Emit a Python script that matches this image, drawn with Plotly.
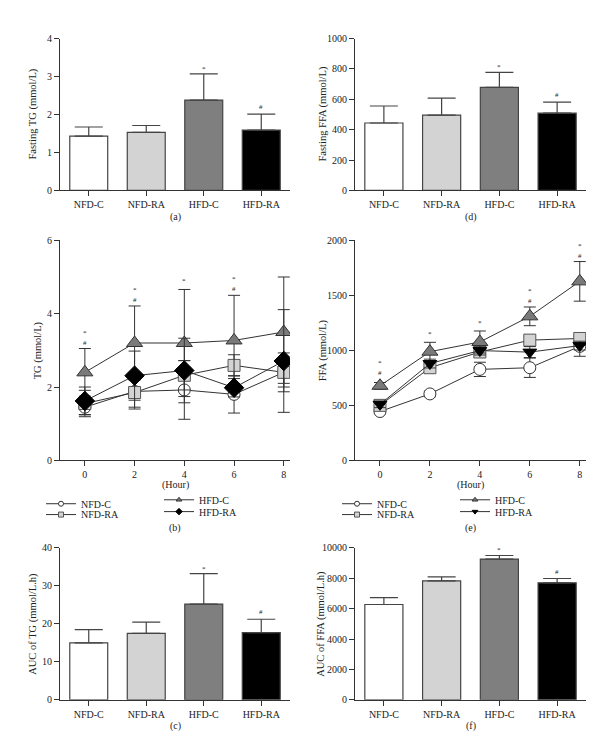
import plotly.graph_objects as go

# ---------------- data ----------------
groups = ["NFD-C", "NFD-RA", "HFD-C", "HFD-RA"]
bar_sig = ["", "", "*", "#"]

fasting_tg = [1.43, 1.53, 2.38, 1.59]
fasting_tg_err = [0.24, 0.18, 0.69, 0.42]

fasting_ffa = [444, 496, 679, 509]
fasting_ffa_err = [112, 112, 99, 73]

auc_tg = [14.96, 17.46, 25.2, 17.7]
auc_tg_err = [3.5, 3.0, 8.0, 3.5]

auc_ffa = [6270, 7827, 9254, 7697]
auc_ffa_err = [454, 259, 238, 281]

hours = [0, 2, 4, 6, 8]

tg_nfd_c = [1.45, 1.88, 1.92, 1.80, 2.40]
tg_nfd_c_err = [0.20, 0.48, 0.80, 0.51, 0.30]
tg_nfd_ra = [1.55, 1.85, 2.32, 2.59, 2.40]
tg_nfd_ra_err = [0.36, 0.40, 0.40, 0.29, 0.53]
tg_hfd_c = [2.40, 3.20, 3.20, 3.27, 3.50]
tg_hfd_c_err = [0.65, 1.01, 1.46, 1.23, 1.50]
tg_hfd_ra = [1.62, 2.31, 2.45, 1.98, 2.71]
tg_hfd_ra_err = [0.38, 0.67, 0.88, 0.25, 1.40]
tg_sig = ["*#", "*#", "*", "*#", ""]

ffa_nfd_c = [444, 604, 827, 842, 1036]
ffa_nfd_c_err = [20, 25, 65, 88, 90]
ffa_nfd_ra = [500, 842, 985, 1093, 1108]
ffa_nfd_ra_err = [30, 40, 50, 30, 40]
ffa_hfd_c = [678, 988, 1076, 1309, 1627]
ffa_hfd_c_err = [30, 85, 100, 85, 180]
ffa_hfd_ra = [509, 880, 998, 984, 1043]
ffa_hfd_ra_err = [30, 40, 40, 50, 40]
ffa_sig = ["*#", "*", "*", "*#", "*#"]

# ---------------- layout geometry ----------------
W, H = 600, 753
FONT = "Liberation Serif, Times New Roman, serif"
TXT = "#222222"
AX = "#333333"
TITLE_SIZE = 10.5

def px_x(a, b):
    return [a / W, b / W]

def px_y(top, bottom):
    return [1 - bottom / H, 1 - top / H]

LEFT = px_x(52, 282)
RIGHT = px_x(347, 578)
ROW1 = px_y(26, 180)
ROW2 = px_y(230.7, 454)
ROW3 = px_y(542.7, 697)

bar_colors = ["#ffffff", "#d3d3d3", "#7f7f7f", "#000000"]

fig = go.Figure()
annotations = []

def axis_common():
    return dict(showline=True, linecolor=AX, linewidth=1, ticks="outside",
                ticklen=5, tickcolor=AX, tickwidth=1, showgrid=False,
                zeroline=False, fixedrange=True, tickformat="d",
                tickfont=dict(family=FONT, size=10, color=TXT))

layout_axes = {}

def sig_font():
    return dict(family=FONT, size=7, color=TXT)

def add_bar_panel(idx, xdom, ydom, vals, errs, yrange, dtick, ytitle, label, title_x):
    xa = "x" if idx == 1 else f"x{idx}"
    ya = "y" if idx == 1 else f"y{idx}"
    fig.add_trace(go.Bar(
        x=groups, y=vals, xaxis=xa, yaxis=ya, width=0.66,
        marker=dict(color=bar_colors, line=dict(color="#444444", width=1.2)),
        error_y=dict(type="data", array=errs, arrayminus=[0] * len(errs),
                     symmetric=False, color="#444444", thickness=1.2, width=14),
        showlegend=False, hoverinfo="skip"))
    xk = "xaxis" if idx == 1 else f"xaxis{idx}"
    yk = "yaxis" if idx == 1 else f"yaxis{idx}"
    layout_axes[xk] = dict(axis_common(), domain=xdom, anchor=ya, type="category",
                           range=[-0.5, 3.5])
    layout_axes[yk] = dict(axis_common(), domain=ydom, anchor=xa, range=yrange,
                           dtick=dtick)
    for g, v, e, s in zip(groups, vals, errs, bar_sig):
        if s:
            annotations.append(dict(x=g, y=v + e, xref=xa, yref=ya, text=s,
                                    showarrow=False, yanchor="middle",
                                    yshift=7 if s == "#" else 5, font=sig_font()))
    annotations.append(dict(x=title_x / W, y=(ydom[0] + ydom[1]) / 2, xref="paper",
                            yref="paper", text=ytitle, textangle=-90, showarrow=False,
                            xanchor="center", yanchor="middle",
                            font=dict(family=FONT, size=TITLE_SIZE, color=TXT)))
    annotations.append(dict(x=(xdom[0] + xdom[1]) / 2, y=ydom[0] - 27 / H, xref="paper",
                            yref="paper", text=label, showarrow=False,
                            xanchor="center", yanchor="middle",
                            font=dict(family=FONT, size=10, color=TXT)))


add_bar_panel(1, LEFT, ROW1, fasting_tg, fasting_tg_err, [0, 4], 1,
              "Fasting TG (mmol/L)", "(a)", 25)
add_bar_panel(2, RIGHT, ROW1, fasting_ffa, fasting_ffa_err, [0, 1000], 200,
              "Fasting FFA (mmol/L)", "(d)", 315)
add_bar_panel(5, LEFT, ROW3, auc_tg, auc_tg_err, [0, 40], 10,
              "AUC of TG (mmol/L.h)", "(c)", 25)
add_bar_panel(6, RIGHT, ROW3, auc_ffa, auc_ffa_err, [0, 10000], 2000,
              "AUC of FFA (mmol/L.h)", "(f)", 313)

# ---------------- line panels ----------------
def add_line_panel(idx, xdom, ydom, series, sig, yrange, dtick, ytitle, label,
                   title_x, legends):
    xa, ya = f"x{idx}", f"y{idx}"
    plot_h = (ydom[1] - ydom[0]) * H
    upp = (yrange[1] - yrange[0]) / plot_h  # units per pixel
    tops = [0] * len(hours)
    for name, vals, errs, mk in series:
        fig.add_trace(go.Scatter(
            x=hours, y=vals, xaxis=xa, yaxis=ya, mode="lines+markers",
            line=dict(color="#333333", width=1),
            marker=mk,
            error_y=dict(type="data", array=errs, color="#333333", thickness=1, width=6),
            showlegend=False, hoverinfo="skip"))
        for i, (v, e) in enumerate(zip(vals, errs)):
            tops[i] = max(tops[i], v + e, v + mk["size"] / 2 * upp)
    xk, yk = f"xaxis{idx}", f"yaxis{idx}"
    layout_axes[xk] = dict(axis_common(), domain=xdom, anchor=ya, range=[-1, 8.25],
                           tickvals=hours)
    layout_axes[yk] = dict(axis_common(), domain=ydom, anchor=xa, range=yrange,
                           dtick=dtick)
    for h, t, s in zip(hours, tops, sig):
        if "#" in s:
            annotations.append(dict(x=h, y=t, xref=xa, yref=ya, text="#",
                                    showarrow=False, yanchor="middle", yshift=6,
                                    font=sig_font()))
        if "*" in s:
            annotations.append(dict(x=h, y=t, xref=xa, yref=ya, text="*",
                                    showarrow=False, yanchor="middle",
                                    yshift=16 if "#" in s else 8, font=sig_font()))
    annotations.append(dict(x=title_x / W, y=(ydom[0] + ydom[1]) / 2, xref="paper",
                            yref="paper", text=ytitle, textangle=-90, showarrow=False,
                            xanchor="center", yanchor="middle",
                            font=dict(family=FONT, size=TITLE_SIZE, color=TXT)))
    cx = (xdom[0] + xdom[1]) / 2
    annotations.append(dict(x=cx, y=ydom[0] - 25 / H, xref="paper", yref="paper",
                            text="(Hour)", showarrow=False, xanchor="center",
                            yanchor="middle", font=dict(family=FONT, size=10, color=TXT)))
    annotations.append(dict(x=cx, y=ydom[0] - 69 / H, xref="paper", yref="paper",
                            text=label, showarrow=False, xanchor="center",
                            yanchor="middle", font=dict(family=FONT, size=10, color=TXT)))
    # legend entries (marker-only proxies, no data)
    for (name, vals, errs, mk), lg in zip(series, legends):
        small = dict(mk, size=5)
        fig.add_trace(go.Scatter(
            x=[None], y=[None], xaxis=xa, yaxis=ya, mode="lines+markers", name=name,
            line=dict(color="#333333", width=1), marker=small, legend=lg,
            showlegend=True))


mk_circle = dict(symbol="circle", size=12, color="#ffffff", line=dict(color="#333333", width=1))
mk_square = dict(symbol="square", size=12, color="#d3d3d3", line=dict(color="#555555", width=1))
mk_tri = dict(symbol="triangle-up", size=14, color="#7a7a7a", line=dict(color="#333333", width=1))
mk_diamond = dict(symbol="diamond", size=15, color="#000000", line=dict(color="#000000", width=1))
mk_tridown = dict(symbol="triangle-down", size=12, color="#000000", line=dict(color="#000000", width=1))

add_line_panel(3, LEFT, ROW2,
               [("NFD-C", tg_nfd_c, tg_nfd_c_err, mk_circle),
                ("NFD-RA", tg_nfd_ra, tg_nfd_ra_err, mk_square),
                ("HFD-C", tg_hfd_c, tg_hfd_c_err, mk_tri),
                ("HFD-RA", tg_hfd_ra, tg_hfd_ra_err, mk_diamond)],
               tg_sig, [0, 6], 2, "TG (mmol/L)", "(b)", 30,
               ["legend", "legend2", "legend3", "legend4"])
add_line_panel(4, RIGHT, ROW2,
               [("NFD-C", ffa_nfd_c, ffa_nfd_c_err, mk_circle),
                ("NFD-RA", ffa_nfd_ra, ffa_nfd_ra_err, mk_square),
                ("HFD-C", ffa_hfd_c, ffa_hfd_c_err, mk_tri),
                ("HFD-RA", ffa_hfd_ra, ffa_hfd_ra_err, mk_tridown)],
               ffa_sig, [0, 2000], 500, "FFA (mmol/L)", "(e)", 315,
               ["legend5", "legend6", "legend7", "legend8"])

def legend_at(xpx, ypx):
    return dict(x=xpx / W, y=1 - ypx / H, xanchor="left", yanchor="middle",
                bgcolor="rgba(0,0,0,0)", borderwidth=0, itemwidth=30,
                font=dict(family=FONT, size=10, color=TXT), tracegroupgap=0,
                itemclick=False, itemdoubleclick=False)

legend_pos = {
    "legend": (33, 498), "legend2": (33, 509), "legend3": (151, 494), "legend4": (151, 506),
    "legend5": (329, 498), "legend6": (329, 509), "legend7": (447, 494), "legend8": (447, 506),
}
legend_layout = {k: legend_at(*v) for k, v in legend_pos.items()}

fig.update_layout(
    width=W, height=H, margin=dict(l=0, r=0, t=0, b=0),
    paper_bgcolor="white", plot_bgcolor="white",
    font=dict(family=FONT, size=10, color=TXT),
    annotations=annotations, bargap=0.2,
    **layout_axes, **legend_layout)

fig.write_html("out.html")
